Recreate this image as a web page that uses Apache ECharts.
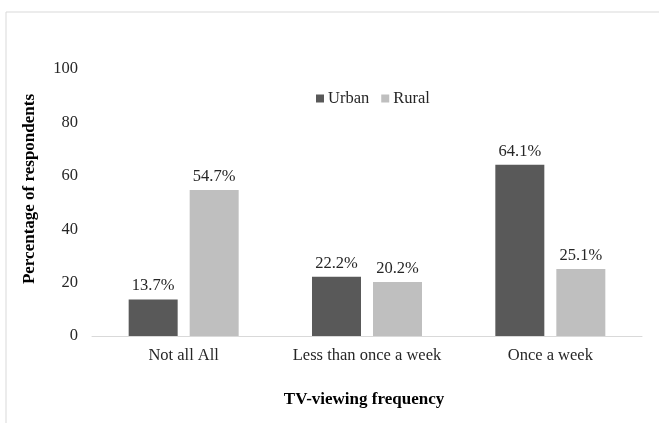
<!DOCTYPE html>
<html>
<head>
<meta charset="utf-8">
<script src="https://cdn.jsdelivr.net/npm/echarts@6/dist/echarts.min.js"></script>
<style>
	html, body { margin: 0; padding: 0; background: #fff; }
	#chart { width: 659px; height: 423px; }
</style>
</head>
<body>
<div id="chart"></div>
<script>
	// data
	const categories = ["Not all All", "Less than once a week", "Once a week"];
	const urban = [13.7, 22.2, 64.1];
	const rural = [54.7, 20.2, 25.1];
	const yTicks = [0, 20, 40, 60, 80, 100];

	const font = "Liberation Serif";
	const chart = echarts.init(document.getElementById("chart"));

	const barLabel = {
		show: true,
		position: "top",
		distance: 5,
		color: "#262626",
		fontFamily: font,
		fontSize: 16.5,
		formatter: (p) => p.value.toFixed(1) + "%",
	};

	const option = {
		animation: false,
		textStyle: { fontFamily: font },
		grid: { left: 92, right: 17, top: 69, bottom: 87 },
		legend: {
			top: 85,
			left: 311,
			icon: "rect",
			itemWidth: 8,
			itemHeight: 8,
			itemGap: 12,
			textStyle: { color: "#262626", fontFamily: font, fontSize: 16.5, padding: [0, 0, 0, -1] },
			data: ["Urban", "Rural"],
		},
		xAxis: {
			type: "category",
			data: categories,
			axisLine: { lineStyle: { color: "#d9d9d9", width: 1 } },
			axisTick: { show: false },
			axisLabel: {
				color: "#262626",
				fontFamily: font,
				fontSize: 16.5,
				margin: 11,
				interval: 0,
				hideOverlap: false,
			},
		},
		yAxis: {
			type: "value",
			min: yTicks[0],
			max: yTicks[yTicks.length - 1],
			interval: 20,
			splitLine: { show: false },
			axisLine: { show: false },
			axisTick: { show: false },
			axisLabel: { color: "#262626", fontFamily: font, fontSize: 16.5, margin: 14 },
		},
		graphic: [
			{
				// thin frame round the chart area
				type: "rect",
				shape: { x: 6, y: 12, width: 700, height: 500 },
				style: { fill: "none", stroke: "#d9d9d9", lineWidth: 1 },
				silent: true,
			},
			{
				type: "text",
				x: 30,
				y: 189,
				rotation: Math.PI / 2,
				style: {
					text: "Percentage of respondents",
					fill: "#000",
					font: "bold 17px " + font,
					textAlign: "center",
					textVerticalAlign: "middle",
				},
			},
			{
				type: "text",
				x: 364,
				y: 400,
				style: {
					text: "TV-viewing frequency",
					fill: "#000",
					font: "bold 17px " + font,
					textAlign: "center",
					textVerticalAlign: "middle",
				},
			},
		],
		series: [
			{
				name: "Urban",
				type: "bar",
				data: urban,
				barWidth: 49,
				barGap: "24.5%",
				itemStyle: { color: "#595959" },
				label: barLabel,
			},
			{
				name: "Rural",
				type: "bar",
				data: rural,
				barWidth: 49,
				barGap: "24.5%",
				itemStyle: { color: "#bfbfbf" },
				label: barLabel,
			},
		],
	};

	chart.setOption(option);
</script>
</body>
</html>
